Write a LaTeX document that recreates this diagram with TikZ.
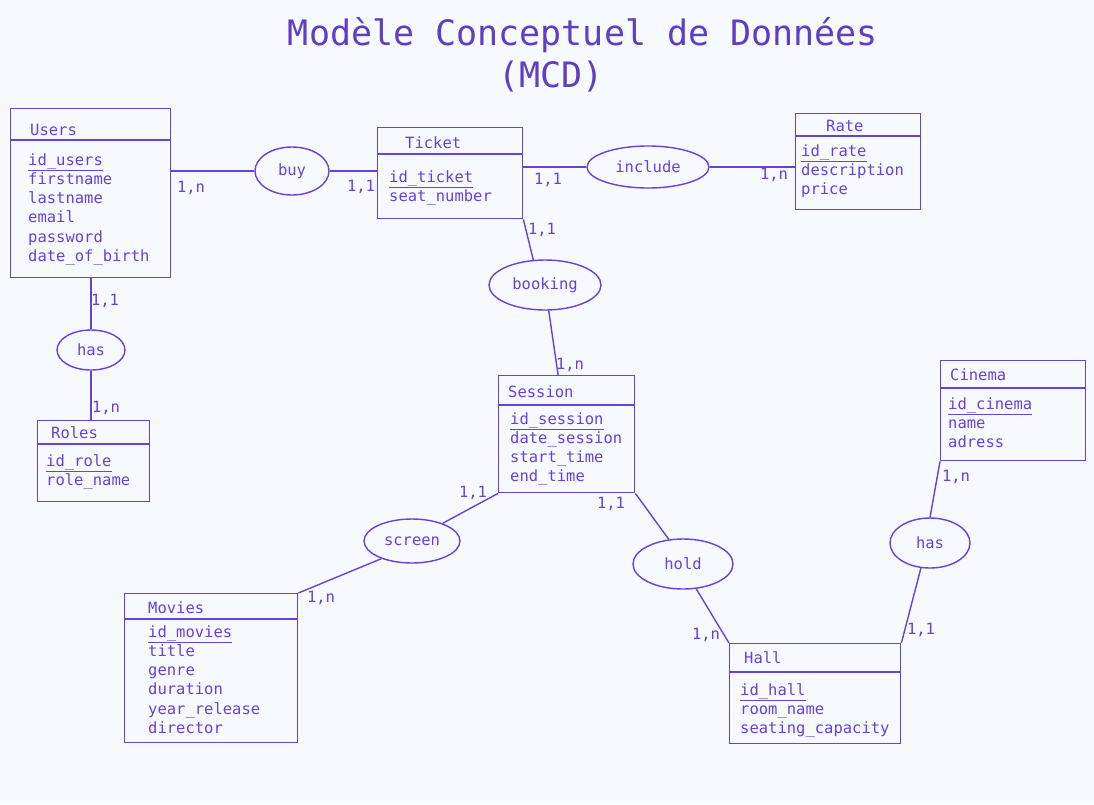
\documentclass[tikz,border=0pt]{standalone}
\usepackage{fontspec}
\setmainfont{DejaVu Sans Mono}
\usetikzlibrary{shapes.geometric,calc}
\definecolor{bg}{RGB}{246,250,254}
\definecolor{ink}{RGB}{103,65,217}
\definecolor{titleink}{RGB}{95,61,196}
\newcommand{\bodyfont}{\fontsize{15.5}{18}\selectfont}
\begin{document}
\begin{tikzpicture}[x=1pt,y=-1pt,
  ent/.style={draw=ink, rectangle, anchor=north west, inner sep=0pt, line width=1.4pt},
  rel/.style={draw=ink, ellipse, inner sep=0pt, line width=1.4pt, font=\bodyfont, text=ink},
  txt/.style={anchor=mid west, inner sep=0pt, yshift=-3.5pt, font=\bodyfont, text=ink},
  card/.style={inner sep=0pt, yshift=-2pt, font=\bodyfont, text=ink},
  ttl/.style={inner sep=0pt, yshift=-2pt, font=\fontsize{35}{40}\selectfont, text=titleink},
  conn/.style={draw=ink, line width=1.4pt},
  hdr/.style={draw=ink, line width=1.4pt}]
\fill[bg] (0,0) rectangle (1094,804);
\useasboundingbox (0,0) rectangle (1094,804);

% title
\node[ttl] (t1) at (583,33) {Modèle Conceptuel de Données};
\node[ttl] (t2) at (551,75) {(MCD)};

% entities
\node[ent, minimum width=160pt, minimum height=169pt] (users) at (10,108) {};
\draw[hdr] ($(users.north west)+(0,32)$) -- ($(users.north east)+(0,32)$);
\node[txt] (users-t) at (30,129) {Users};
\foreach \t [count=\i from 0] in {\underline{id\_users},firstname,lastname,email,password,date\_of\_birth}
  \node[txt] (users-a\i) at (28,{159+\i*19.2}) {\t};

\node[ent, minimum width=145pt, minimum height=91pt] (ticket) at (377,127) {};
\draw[hdr] ($(ticket.north west)+(0,27)$) -- ($(ticket.north east)+(0,27)$);
\node[txt] (ticket-t) at (405,142) {Ticket};
\foreach \t [count=\i from 0] in {\underline{id\_ticket},seat\_number}
  \node[txt] (ticket-a\i) at (389,{176+\i*19.2}) {\t};

\node[ent, minimum width=125pt, minimum height=96pt] (rate) at (795,113) {};
\draw[hdr] ($(rate.north west)+(0,23)$) -- ($(rate.north east)+(0,23)$);
\node[txt] (rate-t) at (826,125) {Rate};
\foreach \t [count=\i from 0] in {\underline{id\_rate},description,price}
  \node[txt] (rate-a\i) at (801,{150+\i*19.2}) {\t};

\node[ent, minimum width=112pt, minimum height=81pt] (roles) at (37,420) {};
\draw[hdr] ($(roles.north west)+(0,24)$) -- ($(roles.north east)+(0,24)$);
\node[txt] (roles-t) at (51,432) {Roles};
\foreach \t [count=\i from 0] in {\underline{id\_role},role\_name}
  \node[txt] (roles-a\i) at (46,{460+\i*19.2}) {\t};

\node[ent, minimum width=136pt, minimum height=117pt] (session) at (498,375) {};
\draw[hdr] ($(session.north west)+(0,30)$) -- ($(session.north east)+(0,30)$);
\node[txt] (session-t) at (508,391) {Session};
\foreach \t [count=\i from 0] in {\underline{id\_session},date\_session,start\_time,end\_time}
  \node[txt] (session-a\i) at (510,{418+\i*19.2}) {\t};

\node[ent, minimum width=145pt, minimum height=100pt] (cinema) at (940,360) {};
\draw[hdr] ($(cinema.north west)+(0,28)$) -- ($(cinema.north east)+(0,28)$);
\node[txt] (cinema-t) at (950,374) {Cinema};
\foreach \t [count=\i from 0] in {\underline{id\_cinema},name,adress}
  \node[txt] (cinema-a\i) at (948,{403+\i*19}) {\t};

\node[ent, minimum width=173pt, minimum height=149pt] (movies) at (124,593) {};
\draw[hdr] ($(movies.north west)+(0,26)$) -- ($(movies.north east)+(0,26)$);
\node[txt] (movies-t) at (148,607) {Movies};
\foreach \t [count=\i from 0] in {\underline{id\_movies},title,genre,duration,year\_release,director}
  \node[txt] (movies-a\i) at (148,{631+\i*19.2}) {\t};

\node[ent, minimum width=171pt, minimum height=100pt] (hall) at (729,643) {};
\draw[hdr] ($(hall.north west)+(0,29)$) -- ($(hall.north east)+(0,29)$);
\node[txt] (hall-t) at (744,657) {Hall};
\foreach \t [count=\i from 0] in {\underline{id\_hall},room\_name,seating\_capacity}
  \node[txt] (hall-a\i) at (740,{689+\i*19.2}) {\t};

% relationships
\node[rel, minimum width=74pt, minimum height=48pt] (buy) at (292,171) {buy};
\node[rel, minimum width=122pt, minimum height=42pt] (include) at (648,167) {include};
\node[rel, minimum width=112pt, minimum height=50pt] (booking) at (545,285) {booking};
\node[rel, minimum width=68pt, minimum height=40pt] (hasa) at (91,350) {has};
\node[rel, minimum width=96pt, minimum height=44pt] (screen) at (412,541) {screen};
\node[rel, minimum width=100pt, minimum height=50pt] (hold) at (683,564) {hold};
\node[rel, minimum width=80pt, minimum height=50pt] (hasb) at (930,543) {has};

% connectors
\draw[conn] (users.east |- buy.west) -- (buy.west);
\draw[conn] (buy.east) -- (buy.east -| ticket.west);
\draw[conn] (ticket.east |- include.west) -- (include.west);
\draw[conn] (include.east) -- (include.east -| rate.west);
\draw[conn] (ticket.south east) -- (booking.115);
\draw[conn] (booking) -- (session);
\draw[conn] (users.south -| hasa) -- (hasa);
\draw[conn] (hasa) -- (hasa |- roles.north);
\draw[conn] (session.south west) -- (screen.30);
\draw[conn] (screen.210) -- (movies.north east);
\draw[conn] (session.south east) -- (hold.120);
\draw[conn] (hold.-62) -- (hall.north west);
\draw[conn] (cinema.south west) -- (hasb.north);
\draw[conn] (hasb.-110) -- (hall.north east);

% cardinalities
\node[card] (c1) at (191,186) {1,n};
\node[card] (c2) at (361,185) {1,1};
\node[card] (c3) at (548,178) {1,1};
\node[card] (c4) at (774,173) {1,n};
\node[card] (c5) at (542,228) {1,1};
\node[card] (c6) at (570,363) {1,n};
\node[card] (c7) at (105,299) {1,1};
\node[card] (c8) at (106,406) {1,n};
\node[card] (c9) at (473,491) {1,1};
\node[card] (c10) at (321,596) {1,n};
\node[card] (c11) at (611,502) {1,1};
\node[card] (c12) at (706,633) {1,n};
\node[card] (c13) at (956,475) {1,n};
\node[card] (c14) at (921,628) {1,1};
\end{tikzpicture}
\end{document}
